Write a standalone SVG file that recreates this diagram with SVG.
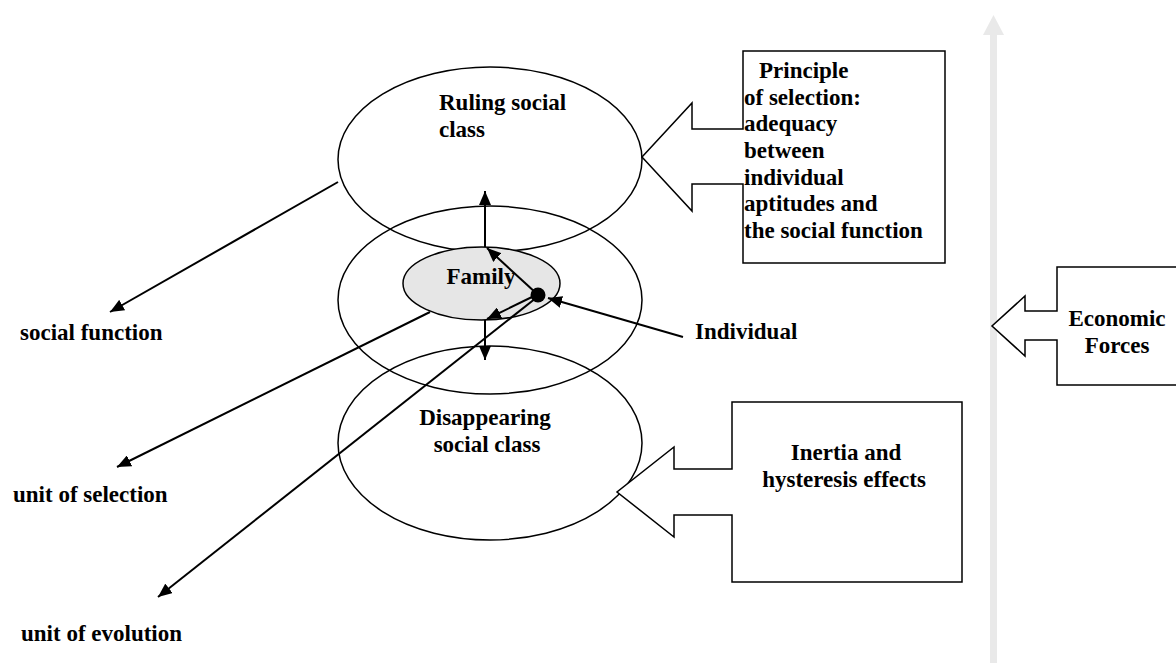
<svg xmlns="http://www.w3.org/2000/svg" width="1176" height="663" viewBox="0 0 1176 663">
<style>
text{font-family:"Liberation Serif","Times New Roman",serif;font-weight:bold;font-size:23px;fill:#000}
.ell{fill:none;stroke:#000;stroke-width:1.5}
.call{fill:#fff;stroke:#000;stroke-width:1.5;stroke-linejoin:miter}
.con{stroke:#000;stroke-width:2;fill:none}
</style>
<defs>
<marker id="ah" viewBox="0 0 14 12" refX="14" refY="6" markerWidth="14" markerHeight="12" markerUnits="userSpaceOnUse" orient="auto">
<path d="M0,0 L14,6 L0,12 z" fill="#000"/>
</marker>
</defs>
<g id="economic-axis">
<rect x="990" y="34" width="7" height="629" fill="#e9e9e9"/>
<polygon points="983,35 993.5,15 1004,35" fill="#e9e9e9"/>
</g>
<g id="ruling-class">
<ellipse class="ell" cx="490" cy="159.5" rx="152" ry="92.5"/>
<text x="439" y="110">Ruling social</text>
<text x="439" y="137">class</text>
</g>
<g id="middle-class">
<ellipse class="ell" cx="490" cy="300" rx="152" ry="94"/>
</g>
<g id="disappearing-class">
<ellipse class="ell" cx="490" cy="443" rx="152" ry="97"/>
<text x="485" y="425" text-anchor="middle">Disappearing</text>
<text x="487" y="452" text-anchor="middle">social class</text>
</g>
<g id="family">
<ellipse cx="481.5" cy="283.5" rx="78.5" ry="36.5" fill="#e6e6e6" stroke="#000" stroke-width="1.5"/>
<text x="481" y="284" text-anchor="middle">Family</text>
</g>
<g id="principle">
<path class="call" d="M743,129 L692,129 L692,103 L642,157 L692,211 L692,184 L743,184 L743,263 L945,263 L945,51 L743,51 Z"/>
<text x="759" y="78">Principle</text>
<text x="744" y="104.7">of selection:</text>
<text x="744" y="131.3">adequacy</text>
<text x="744" y="158">between</text>
<text x="744" y="184.7">individual</text>
<text x="744" y="211.3">aptitudes and</text>
<text x="744" y="238">the social function</text>
</g>
<g id="inertia">
<path class="call" d="M732,469 L674,469 L674,447 L617,492 L674,537 L674,515 L732,515 L732,582 L962,582 L962,402 L732,402 Z"/>
<text x="846" y="460" text-anchor="middle">Inertia and</text>
<text x="844" y="487" text-anchor="middle">hysteresis effects</text>
</g>
<g id="economic">
<path class="call" d="M1057,311 L1025,311 L1025,296 L992,326 L1025,356 L1025,340 L1057,340 L1057,385 L1180,385 L1180,267 L1057,267 Z"/>
<text x="1117" y="326" text-anchor="middle">Economic</text>
<text x="1117" y="353" text-anchor="middle">Forces</text>
</g>
<g id="labels">
<text x="20" y="340">social function</text>
<text x="13" y="502">unit of selection</text>
<text x="21" y="641">unit of evolution</text>
<text x="695" y="339">Individual</text>
</g>
<g id="connectors">
<line class="con" x1="338" y1="182" x2="110" y2="312" marker-end="url(#ah)"/>
<line class="con" x1="430" y1="312" x2="117" y2="467" marker-end="url(#ah)"/>
<line class="con" x1="536" y1="298" x2="158" y2="597" marker-end="url(#ah)"/>
<line class="con" x1="485" y1="247" x2="485" y2="191" marker-end="url(#ah)"/>
<line class="con" x1="485" y1="320" x2="485" y2="360" marker-end="url(#ah)"/>
<line class="con" x1="536" y1="293" x2="487" y2="248" marker-end="url(#ah)"/>
<line class="con" x1="534" y1="296" x2="487" y2="319" marker-end="url(#ah)"/>
<line class="con" x1="683" y1="337" x2="548" y2="298" marker-end="url(#ah)"/>
<circle cx="538" cy="295" r="7.5" fill="#000"/>
</g>
</svg>
